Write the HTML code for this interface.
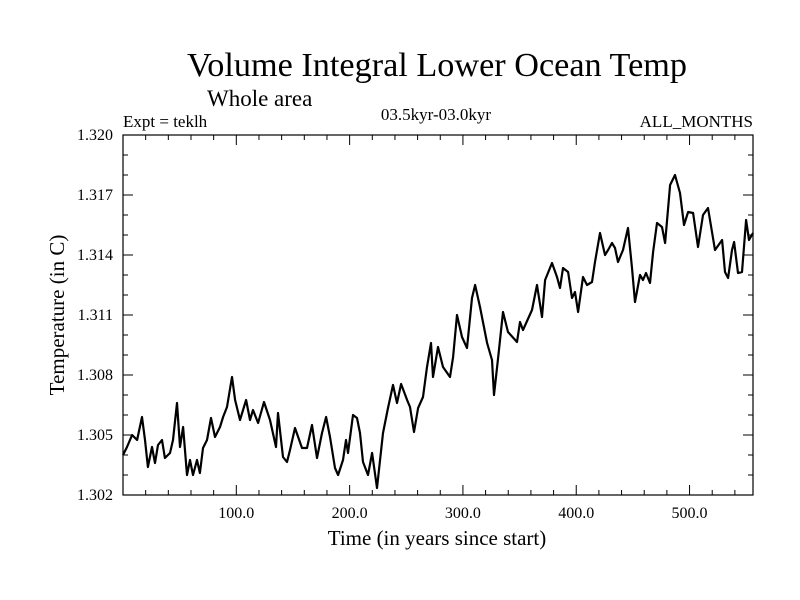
<!DOCTYPE html>
<html><head><meta charset="utf-8"><style>
html,body{margin:0;padding:0;background:#fff;}
svg{display:block;font-family:"Liberation Serif",serif;}
</style></head><body>
<svg id="chart" width="800" height="600" viewBox="0 0 800 600" xmlns="http://www.w3.org/2000/svg">
<rect width="800" height="600" fill="#fff"/>
<text x="437" y="76" font-size="34" text-anchor="middle" textLength="500" lengthAdjust="spacingAndGlyphs">Volume Integral Lower Ocean Temp</text>
<text x="207" y="106" font-size="23">Whole area</text>
<text x="123" y="127" font-size="17">Expt = teklh</text>
<text x="436" y="120" font-size="17" text-anchor="middle">03.5kyr-03.0kyr</text>
<text x="753" y="127" font-size="17" text-anchor="end">ALL_MONTHS</text>
<text x="437" y="545" font-size="21" text-anchor="middle">Time (in years since start)</text>
<text transform="translate(64,315) rotate(-90)" font-size="21" text-anchor="middle">Temperature (in C)</text>
<g id="axes"></g>
<path id="series" fill="none" stroke="#000" stroke-width="2.2" stroke-linejoin="round"/>
<rect x="123" y="135" width="630" height="360" fill="none" stroke="#000" stroke-width="1.2"/>
</svg>
<script>
const years = [0,3.5,8,12.4,16.8,19.4,22,25.6,28.2,30.9,34.4,37,41.5,44.1,47.7,50.3,53,56.5,59.1,61.8,65.3,67.9,70.6,74.1,77.7,81.2,85.6,88.3,91.8,96.2,98.9,103.3,108.6,112.1,114.7,119.2,124.4,129.7,135,136.8,141.2,144.7,147.4,151.8,158,162.4,166.8,171.2,175.6,179.2,182.7,187.1,189.8,194.2,196.8,198.6,203,206.5,209.2,211.8,216.2,219.8,224.2,229.5,233.9,238.3,241.8,245.4,250.7,253.3,256.8,260.4,264.8,268.3,271.8,273.6,278,282.4,288.6,291.3,294.8,299.2,303.6,308,310.7,315.1,321.3,325.7,327.4,331,335.4,339.8,347.7,350.4,353,361,365.4,369.8,372.5,378.6,383,385.7,388.3,392.8,396.3,398.9,401.6,406,409.5,413.9,416.6,421,425.4,428.1,431.6,434.2,436.9,441.3,445.7,449.2,451.9,456.3,458.9,461.6,465.1,467.8,471.3,475.7,478.4,482.8,487.2,491.6,495.1,498.7,503.1,507.5,511.9,516.3,522.5,528.7,531.3,534,537.5,539.3,542.8,546.3,549.9,552.5,556];
const temps = [1.3040,1.3044,1.3050,1.30475,1.3059,1.30475,1.3034,1.3044,1.3036,1.3045,1.30475,1.30385,1.3041,1.30475,1.3066,1.3044,1.3054,1.3030,1.30375,1.3030,1.30375,1.3031,1.30435,1.30475,1.30585,1.3049,1.3054,1.3059,1.3064,1.3079,1.30675,1.30575,1.30675,1.30575,1.30625,1.3056,1.30665,1.30575,1.3044,1.3061,1.3039,1.30365,1.30425,1.30535,1.30435,1.30435,1.3055,1.30385,1.3051,1.3059,1.3049,1.30335,1.3030,1.30375,1.30475,1.3041,1.3060,1.30585,1.3051,1.30365,1.3030,1.3041,1.30235,1.3051,1.30635,1.3075,1.3066,1.30755,1.30675,1.3064,1.30515,1.30635,1.3069,1.3084,1.3096,1.3079,1.3094,1.3084,1.3079,1.3089,1.3110,1.3099,1.30935,1.31185,1.3125,1.3114,1.3096,1.30875,1.3070,1.30885,1.31115,1.31015,1.30965,1.31065,1.31025,1.31125,1.3125,1.3109,1.31275,1.3136,1.3129,1.31235,1.31335,1.31315,1.31185,1.31215,1.31115,1.3129,1.3125,1.31265,1.31365,1.3151,1.3140,1.31425,1.3146,1.31435,1.31365,1.31425,1.31535,1.31335,1.31165,1.3130,1.31275,1.3131,1.3126,1.31415,1.3156,1.3154,1.3146,1.3175,1.3180,1.3171,1.3155,1.31615,1.3161,1.3144,1.3160,1.31635,1.31425,1.31475,1.31315,1.31285,1.31425,1.31465,1.3131,1.31315,1.31575,1.31475,1.3151];
const xTickValues = [100,200,300,400,500];
const xTickLabels = ["100.0","200.0","300.0","400.0","500.0"];
const yTickValues = [1.302,1.305,1.308,1.311,1.314,1.317,1.320];
const yTickLabels = ["1.302","1.305","1.308","1.311","1.314","1.317","1.320"];

const X0=123,X1=753,Y0=495,Y1=135,XMAX=556,YMIN=1.302,YMAX=1.320;
function xs(v){return X0+(v/XMAX)*(X1-X0);}
function ys(v){return Y0-(v-YMIN)/(YMAX-YMIN)*(Y0-Y1);}
const NS="http://www.w3.org/2000/svg";
const g=document.getElementById('axes');
function line(x1,y1,x2,y2,name){const l=document.createElementNS(NS,'line');
l.setAttribute('x1',x1);l.setAttribute('y1',y1);l.setAttribute('x2',x2);l.setAttribute('y2',y2);
l.setAttribute('stroke','#000');l.setAttribute('stroke-width','1');


g.appendChild(l);}
function txt(x,y,s,anchor,name){const t=document.createElementNS(NS,'text');
t.setAttribute('x',x);t.setAttribute('y',y);t.setAttribute('font-size','16');t.setAttribute('text-anchor',anchor);t.textContent=s;


g.appendChild(t);}
// x ticks every 20 years
for(let v=20;v<XMAX;v+=20){const x=xs(v);const L=(v%100===0)?10:5;
line(x,Y0,x,Y0-L,'x-tick');line(x,Y1,x,Y1+L,'x-tick-top');}
xTickValues.forEach((v,i)=>txt(xs(v),518,xTickLabels[i],'middle','x-tick-label'));
// y ticks every 0.001
for(let k=1;k<18;k++){const v=YMIN+k*0.001;const y=ys(v);const L=(k%3===0)?10:5;
line(X0,y,X0+L,y,'y-tick');line(X1,y,X1-L,y,'y-tick-right');}
yTickValues.forEach((v,i)=>txt(113,ys(v)+5,yTickLabels[i],'end','y-tick-label'));
let d='';years.forEach((yr,i)=>{d+=(i?'L':'M')+xs(yr).toFixed(1)+','+ys(temps[i]).toFixed(1);});
document.getElementById('series').setAttribute('d',d);
</script>
</body></html>
